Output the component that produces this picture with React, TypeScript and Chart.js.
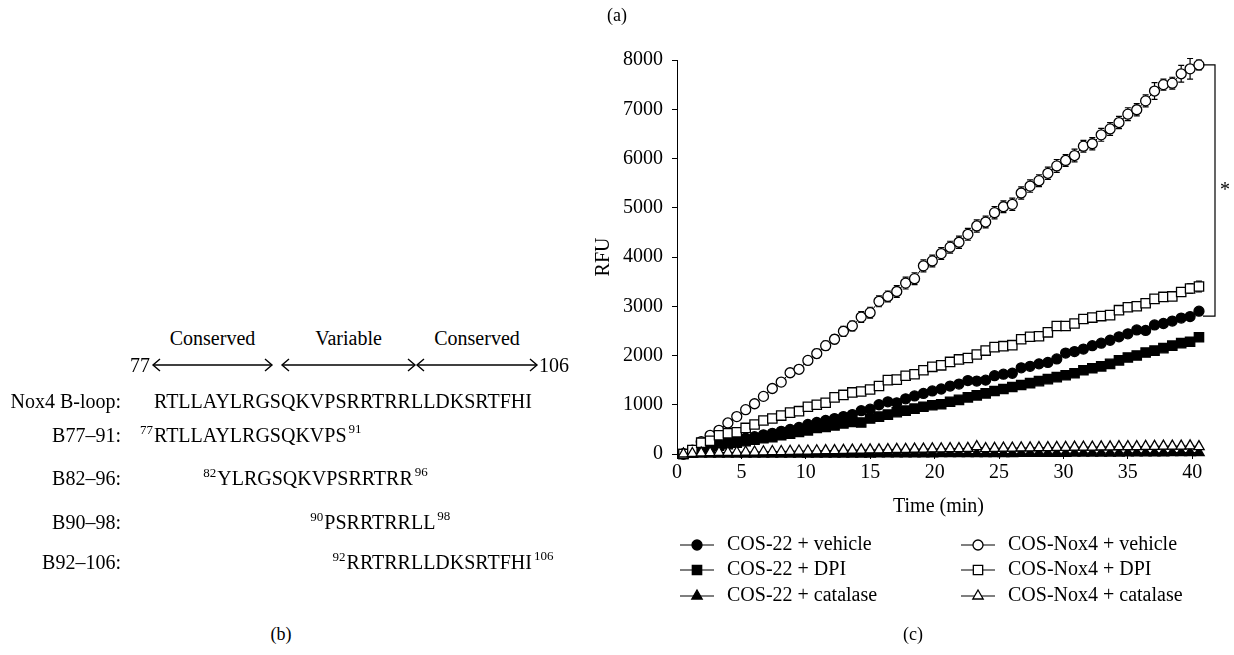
import React, { useEffect, useRef } from 'react';
import { Chart, registerables } from 'chart.js';
import { drawPoint } from 'chart.js/helpers';

Chart.register(...registerables);

// ---------- data ----------
const TIME = [
  0.5, 1.19, 1.88, 2.57, 3.26, 3.95, 4.64, 5.33, 6.02, 6.71,
  7.4, 8.09, 8.78, 9.47, 10.16, 10.85, 11.54, 12.23, 12.92, 13.61,
  14.3, 14.99, 15.68, 16.37, 17.06, 17.75, 18.44, 19.13, 19.82, 20.51,
  21.2, 21.89, 22.58, 23.27, 23.96, 24.65, 25.34, 26.03, 26.72, 27.41,
  28.1, 28.79, 29.48, 30.17, 30.86, 31.55, 32.24, 32.93, 33.62, 34.31,
  35.0, 35.69, 36.38, 37.07, 37.76, 38.45, 39.14, 39.83, 40.52,
];

const COS22_VEHICLE = [
  0, 40, 100, 150, 190, 230, 280, 320, 350, 390,
  420, 460, 500, 540, 600, 640, 680, 720, 760, 800,
  880, 910, 1000, 1060, 1040, 1120, 1180, 1230, 1280, 1320,
  1380, 1420, 1490, 1480, 1500, 1590, 1620, 1640, 1750, 1780,
  1830, 1860, 1930, 2050, 2080, 2130, 2200, 2250, 2310, 2380,
  2440, 2520, 2510, 2620, 2650, 2700, 2760, 2790, 2900,
];

const COS22_DPI = [
  0, 30, 80, 130, 170, 200, 230, 260, 290, 320,
  340, 380, 410, 450, 480, 530, 550, 580, 620, 650,
  640, 720, 760, 800, 850, 880, 920, 960, 990, 1010,
  1060, 1100, 1150, 1190, 1230, 1280, 1320, 1360, 1400, 1440,
  1480, 1520, 1560, 1600, 1640, 1700, 1740, 1780, 1830, 1900,
  1960, 2000, 2060, 2100, 2150, 2200, 2250, 2280, 2370,
];

const COS22_CATALASE = [
  0, 0, 0, 0, 0, 0, 0, 0, 0, 0,
  0, 0, 0, 0, 0, 0, 0, 0, 0, 0,
  0, 0, 5, 5, 5, 5, 5, 5, 5, 10,
  10, 10, 10, 10, 10, 10, 10, 10, 15, 15,
  15, 15, 15, 15, 20, 20, 20, 20, 20, 20,
  25, 25, 25, 25, 25, 30, 30, 30, 30,
];

const NOX4_VEHICLE = [
  0, 80, 250, 380, 480, 630, 760, 900, 1020, 1170,
  1330, 1460, 1650, 1720, 1900, 2040, 2200, 2330, 2490, 2600,
  2780, 2870, 3100, 3200, 3300, 3470, 3560, 3820, 3920, 4070,
  4200, 4300, 4460, 4630, 4710, 4900, 5020, 5070, 5300, 5440,
  5550, 5700, 5850, 5960, 6060, 6250, 6300, 6480, 6600, 6730,
  6900, 6990, 7170, 7370, 7500, 7530, 7720, 7820, 7900,
];

const NOX4_VEHICLE_ERR = [
  20, 20, 30, 30, 40, 40, 50, 50, 60, 60,
  70, 70, 80, 80, 80, 90, 90, 90, 100, 100,
  110, 110, 110, 110, 120, 120, 120, 120, 120, 120,
  120, 125, 120, 125, 120, 125, 120, 125, 125, 125,
  120, 125, 130, 120, 130, 120, 125, 130, 130, 125,
  130, 125, 120, 170, 110, 120, 170, 210, 100,
];

const NOX4_DPI = [
  0, 80, 230, 270, 380, 420, 440, 530, 600, 680,
  720, 780, 840, 870, 960, 1000, 1040, 1150, 1200, 1250,
  1270, 1310, 1380, 1500, 1510, 1590, 1620, 1700, 1770, 1800,
  1870, 1920, 1950, 2020, 2100, 2170, 2190, 2210, 2330, 2380,
  2390, 2470, 2600, 2600, 2650, 2740, 2770, 2800, 2820, 2920,
  2980, 3000, 3060, 3150, 3190, 3200, 3290, 3360, 3400,
];

const NOX4_DPI_ERR = [
  10, 10, 20, 20, 20, 20, 20, 20, 20, 20,
  20, 20, 20, 20, 20, 30, 30, 30, 30, 30,
  30, 30, 30, 30, 30, 30, 30, 30, 30, 30,
  40, 40, 40, 40, 40, 40, 40, 40, 40, 40,
  40, 40, 40, 40, 40, 50, 50, 50, 50, 50,
  50, 60, 60, 60, 70, 80, 90, 100, 110,
];

const NOX4_CATALASE = [
  0, 10, 20, 25, 30, 30, 35, 40, 40, 45,
  50, 50, 55, 60, 60, 65, 70, 70, 75, 80,
  80, 85, 85, 90, 95, 95, 100, 100, 105, 105,
  110, 110, 115, 150, 110, 115, 120, 120, 125, 125,
  130, 130, 135, 135, 140, 140, 140, 145, 145, 150,
  150, 150, 155, 155, 160, 160, 160, 165, 150,
];

const SERIES_LABELS = [
  'COS-22 + vehicle',
  'COS-22 + DPI',
  'COS-22 + catalase',
  'COS-Nox4 + vehicle',
  'COS-Nox4 + DPI',
  'COS-Nox4 + catalase',
];

const X_TITLE = 'Time (min)';
const Y_TITLE = 'RFU';
const X_MIN = 0;
const X_MAX = 40.6;
const X_STEP = 5;
const Y_MIN = 0;
const Y_MAX = 8000;
const Y_STEP = 1000;
const BRACKET_TOP = 7900;
const BRACKET_BOTTOM = 2800;
const BRACKET_MARK = '*';

const SEQ = 'RTLLAYLRGSQKVPSRRTRRLLDKSRTFHI';
const SEQ_FIRST = 77;
const SEQ_LAST = 106;
const SEQ_LABEL = 'Nox4 B-loop:';
const REGIONS = ['Conserved', 'Variable', 'Conserved'];
const PEPTIDES = [
  { label: 'B77–91:', from: 77, to: 91 },
  { label: 'B82–96:', from: 82, to: 96 },
  { label: 'B90–98:', from: 90, to: 98 },
  { label: 'B92–106:', from: 92, to: 106 },
];
const PANEL_LABELS = ['(a)', '(b)', '(c)'];

const FONT = '"Liberation Serif", "Times New Roman", "DejaVu Serif", serif';

// ---------- plugins ----------
const errorBarPlugin = {
  id: 'errorBars',
  beforeDatasetsDraw(chart: any) {
    const { ctx, scales } = chart;
    const xs = scales.x;
    const ys = scales.y;
    ctx.save();
    ctx.strokeStyle = '#000';
    ctx.lineWidth = 1.2;
    chart.data.datasets.forEach((ds: any) => {
      if (!ds.errors) return;
      ds.data.forEach((p: any, i: number) => {
        const e = ds.errors[i];
        const x = xs.getPixelForValue(p.x);
        const y1 = ys.getPixelForValue(p.y + e);
        const y2 = ys.getPixelForValue(p.y - e);
        ctx.beginPath();
        ctx.moveTo(x, y1);
        ctx.lineTo(x, y2);
        ctx.moveTo(x - 3, y1);
        ctx.lineTo(x + 3, y1);
        ctx.moveTo(x - 3, y2);
        ctx.lineTo(x + 3, y2);
        ctx.stroke();
      });
    });
    ctx.restore();
  },
};

const bracketPlugin = {
  id: 'bracket',
  afterDraw(chart: any) {
    const { ctx, scales, chartArea } = chart;
    const ys = scales.y;
    const top = ys.getPixelForValue(BRACKET_TOP);
    const bottom = ys.getPixelForValue(BRACKET_BOTTOM);
    const x = chartArea.right + 15;
    ctx.save();
    ctx.strokeStyle = '#000';
    ctx.lineWidth = 1.2;
    ctx.beginPath();
    ctx.moveTo(x - 12, top);
    ctx.lineTo(x, top);
    ctx.lineTo(x, bottom);
    ctx.lineTo(x - 12, bottom);
    ctx.stroke();
    ctx.fillStyle = '#000';
    ctx.font = `20px ${FONT}`;
    ctx.textAlign = 'center';
    ctx.textBaseline = 'middle';
    ctx.fillText(BRACKET_MARK, x + 10, (top + bottom) / 2);
    ctx.restore();
  },
};

const legendPlugin = {
  id: 'customLegend',
  afterDraw(chart: any) {
    const { ctx } = chart;
    const colX = [137, 418];
    const rowY = [545, 570, 596];
    ctx.save();
    chart.data.datasets.forEach((ds: any, i: number) => {
      const cx = colX[i < 3 ? 0 : 1];
      const cy = rowY[i % 3];
      ctx.strokeStyle = '#000';
      ctx.lineWidth = 1.2;
      ctx.beginPath();
      ctx.moveTo(cx - 17, cy);
      ctx.lineTo(cx + 17, cy);
      ctx.stroke();
      ctx.fillStyle = ds.pointBackgroundColor;
      ctx.strokeStyle = '#000';
      ctx.lineWidth = ds.pointBorderWidth;
      drawPoint(ctx, { pointStyle: ds.pointStyle, rotation: 0, radius: ds.pointRadius, borderWidth: ds.pointBorderWidth }, cx, cy);
      ctx.fillStyle = '#000';
      ctx.font = `20px ${FONT}`;
      ctx.textAlign = 'left';
      ctx.textBaseline = 'middle';
      ctx.fillText(ds.label, cx + 30, cy);
    });
    ctx.restore();
  },
};

const STYLE_RADIUS: Record<string, number> = { circle: 5, rect: 6.6, triangle: 6 };

function makeDataset(label: string, values: number[], style: string, filled: boolean, order: number, errors?: number[]) {
  const r = STYLE_RADIUS[style];
  return {
    label,
    data: TIME.map((t, i) => ({ x: t, y: values[i] })),
    errors,
    borderColor: '#000',
    borderWidth: 1,
    backgroundColor: filled ? '#000' : '#fff',
    pointStyle: style,
    pointRadius: r,
    pointHoverRadius: r,
    pointBackgroundColor: filled ? '#000' : '#fff',
    pointBorderColor: '#000',
    pointBorderWidth: 1.3,
    showLine: true,
    fill: false,
    tension: 0,
    clip: false,
    order,
  };
}

function ChartPanel() {
  const ref = useRef<HTMLCanvasElement>(null);
  useEffect(() => {
    if (!ref.current) return;
    const chart = new Chart(ref.current, {
      type: 'line',
      data: {
        datasets: [
          makeDataset(SERIES_LABELS[0], COS22_VEHICLE, 'circle', true, 3),
          makeDataset(SERIES_LABELS[1], COS22_DPI, 'rect', true, 4),
          makeDataset(SERIES_LABELS[2], COS22_CATALASE, 'triangle', true, 5),
          makeDataset(SERIES_LABELS[3], NOX4_VEHICLE, 'circle', false, 2, NOX4_VEHICLE_ERR),
          makeDataset(SERIES_LABELS[4], NOX4_DPI, 'rect', false, 1, NOX4_DPI_ERR),
          makeDataset(SERIES_LABELS[5], NOX4_CATALASE, 'triangle', false, 0),
        ] as any,
      },
      options: {
        animation: false,
        responsive: false,
        events: [],
        layout: { padding: { left: 0, top: 60, right: 34, bottom: 131 } },
        plugins: { legend: { display: false }, tooltip: { enabled: false } },
        scales: {
          x: {
            type: 'linear',
            position: 'bottom',
            min: X_MIN,
            max: X_MAX,
            ticks: {
              stepSize: X_STEP,
              includeBounds: false,
              color: '#000',
              padding: 2,
              font: { size: 20, family: FONT },
              callback: (v: any) => String(v),
            },
            grid: { drawOnChartArea: false, drawTicks: true, tickLength: 5, color: '#000' },
            border: { display: true, color: '#000', width: 1 },
            title: { display: true, text: X_TITLE, color: '#000', font: { size: 20, family: FONT }, padding: { top: 0, bottom: 5 } },
            afterFit: (s: any) => { s.height = 70; },
          },
          y: {
            type: 'linear',
            min: Y_MIN,
            max: Y_MAX,
            ticks: {
              stepSize: Y_STEP,
              color: '#000',
              padding: 9,
              font: { size: 20, family: FONT },
              callback: (v: any) => String(v),
            },
            grid: { drawOnChartArea: false, drawTicks: true, tickLength: 5, color: '#000' },
            border: { display: true, color: '#000', width: 1 },
            title: { display: true, text: Y_TITLE, color: '#000', font: { size: 20, family: FONT }, padding: { top: 32, bottom: 0 } },
            afterFit: (s: any) => { s.width = 117; },
          },
        },
      } as any,
      plugins: [errorBarPlugin, bracketPlugin, legendPlugin],
    });
    return () => chart.destroy();
  }, []);
  return <canvas ref={ref} width={674} height={655} style={{ position: 'absolute', left: 560, top: 0 }} />;
}

function Txt({ x, y, align = 'left', size = 20, children }: any) {
  const tx = align === 'right' ? '-100%' : align === 'center' ? '-50%' : '0';
  return (
    <div style={{ position: 'absolute', left: x, top: y, transform: `translate(${tx}, -50%)`, fontSize: size, lineHeight: 1, whiteSpace: 'nowrap' }}>
      {children}
    </div>
  );
}

function PeptideRow({ y, from, to }: any) {
  const prefix = SEQ.slice(0, from - SEQ_FIRST);
  const body = SEQ.slice(from - SEQ_FIRST, to - SEQ_FIRST + 1);
  return (
    <div style={{ position: 'absolute', left: 154, top: y, transform: 'translateY(-50%)', fontSize: 20, lineHeight: 1, whiteSpace: 'nowrap' }}>
      <span style={{ visibility: 'hidden' }}>{prefix}</span>
      <span style={{ position: 'relative' }}>
        <span style={{ position: 'absolute', right: 1, bottom: 10, fontSize: 13, lineHeight: 1 }}>{from}</span>
      </span>
      {body}
      <span style={{ position: 'relative', top: -9, fontSize: 13, marginLeft: 2 }}>{to}</span>
    </div>
  );
}

function Arrow({ x1, x2, y }: any) {
  return (
    <g stroke="#000" strokeWidth={1.4} fill="none">
      <line x1={x1} y1={y} x2={x2} y2={y} />
      <polyline points={`${x1 + 7},${y - 6} ${x1},${y} ${x1 + 7},${y + 6}`} />
      <polyline points={`${x2 - 7},${y - 6} ${x2},${y} ${x2 - 7},${y + 6}`} />
    </g>
  );
}

export default function App() {
  const arrows = [
    [153, 272],
    [282, 415],
    [417, 537],
  ];
  const rowY = [435, 478, 522, 562];
  return (
    <div style={{ position: 'fixed', left: 0, top: 0, width: 1234, height: 655, background: '#fff', color: '#000', fontFamily: FONT, overflow: 'hidden' }}>
      <ChartPanel />
      <Txt x={617} y={15} align="center" size={18}>{PANEL_LABELS[0]}</Txt>
      <Txt x={281} y={634} align="center" size={18}>{PANEL_LABELS[1]}</Txt>
      <Txt x={913} y={634} align="center" size={18}>{PANEL_LABELS[2]}</Txt>

      {REGIONS.map((r, i) => (
        <Txt key={i} x={(arrows[i][0] + arrows[i][1]) / 2} y={338} align="center">{r}</Txt>
      ))}
      <svg width={1234} height={655} style={{ position: 'absolute', left: 0, top: 0, pointerEvents: 'none' }}>
        {arrows.map((a, i) => <Arrow key={i} x1={a[0]} x2={a[1]} y={365} />)}
      </svg>
      <Txt x={150} y={365} align="right">{SEQ_FIRST}</Txt>
      <Txt x={539} y={365} align="left">{SEQ_LAST}</Txt>

      <Txt x={121} y={401} align="right">{SEQ_LABEL}</Txt>
      <Txt x={154} y={401} align="left">{SEQ}</Txt>
      {PEPTIDES.map((p, i) => (
        <React.Fragment key={p.label}>
          <Txt x={121} y={rowY[i]} align="right">{p.label}</Txt>
          <PeptideRow y={rowY[i]} from={p.from} to={p.to} />
        </React.Fragment>
      ))}
    </div>
  );
}
